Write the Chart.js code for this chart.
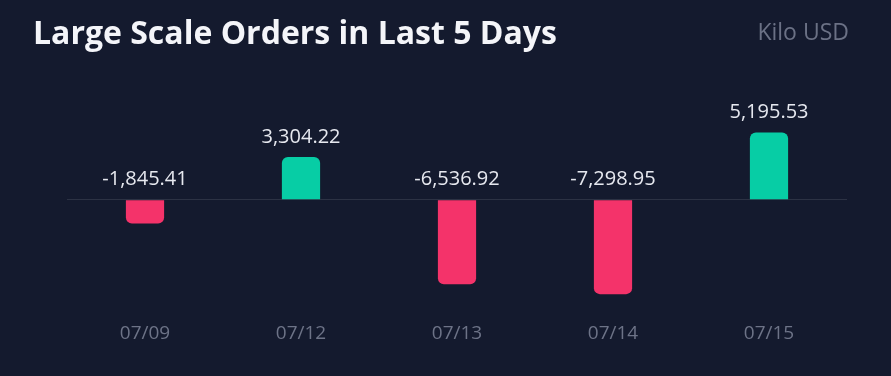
<!DOCTYPE html>
<html>
<head>
<meta charset="utf-8">
<script src="https://cdn.jsdelivr.net/npm/chart.js@4.4.0/dist/chart.umd.min.js"></script>
<style>
    html, body { margin: 0; padding: 0; background: #141a2e; }
    #wrap { position: relative; width: 891px; height: 376px; overflow: hidden; }
    #title { position: absolute; left: 33px; top: 10px; font-family: "Open Sans", sans-serif; font-weight: 700; font-size: 32px; color: #f4f5f9; white-space: nowrap; }
    #unit { position: absolute; right: 42px; top: 15px; font-family: "Open Sans", sans-serif; font-size: 23px; color: #6b7185; white-space: nowrap; }
    canvas { position: absolute; left: 0; top: 0; }
</style>
</head>
<body>
<div id="wrap">
    <canvas id="chart" width="891" height="376"></canvas>
    <div id="title">Large Scale Orders in Last 5 Days</div>
    <div id="unit">Kilo USD</div>
</div>
<script>
// Datos del gráfico
const days = ['07/09', '07/12', '07/13', '07/14', '07/15'];
const orderValues = [-1845.41, 3304.22, -6536.92, -7298.95, 5195.53];

const UP = '#07cda5';
const DOWN = '#f4336a';

function fmt(v) {
    return v.toLocaleString('en-US', { minimumFractionDigits: 2, maximumFractionDigits: 2 });
}

// Etiquetas de valor encima de cada barra (o de la línea cero si es negativa)
const valueLabels = {
    id: 'valueLabels',
    afterDatasetsDraw(chart) {
        const ctx = chart.ctx;
        const y = chart.scales.y;
        const meta = chart.getDatasetMeta(0);
        ctx.save();
        ctx.font = '20px "Open Sans", sans-serif';
        ctx.fillStyle = '#e6e8ef';
        ctx.textAlign = 'center';
        ctx.textBaseline = 'middle';
        meta.data.forEach((bar, i) => {
            const v = orderValues[i];
            const top = y.getPixelForValue(Math.max(v, 0));
            ctx.fillText(fmt(v), bar.x, top - 20);
        });
        ctx.restore();
    }
};

new Chart(document.getElementById('chart'), {
    type: 'bar',
    data: {
        labels: days,
        datasets: [{
            data: orderValues,
            backgroundColor: orderValues.map(v => v >= 0 ? UP : DOWN),
            borderRadius: 6,
            borderSkipped: 'start',
            categoryPercentage: 1,
            barPercentage: 0.245
        }]
    },
    options: {
        responsive: false,
        animation: false,
        layout: { padding: { top: 122, left: 67, right: 44, bottom: 20 } },
        plugins: {
            legend: { display: false },
            tooltip: { enabled: false }
        },
        scales: {
            x: {
                grid: { display: false },
                border: { display: false },
                ticks: {
                    color: '#6d7387',
                    padding: 11,
                    font: { family: '"Open Sans", sans-serif', size: 19 }
                }
            },
            y: {
                min: -8000,
                max: 6000,
                border: { display: false },
                grid: {
                    drawTicks: false,
                    color: c => c.tick.value === 0 ? '#2c3244' : 'rgba(0,0,0,0)'
                },
                ticks: { display: false, stepSize: 2000 }
            }
        }
    },
    plugins: [valueLabels]
});
</script>
</body>
</html>
